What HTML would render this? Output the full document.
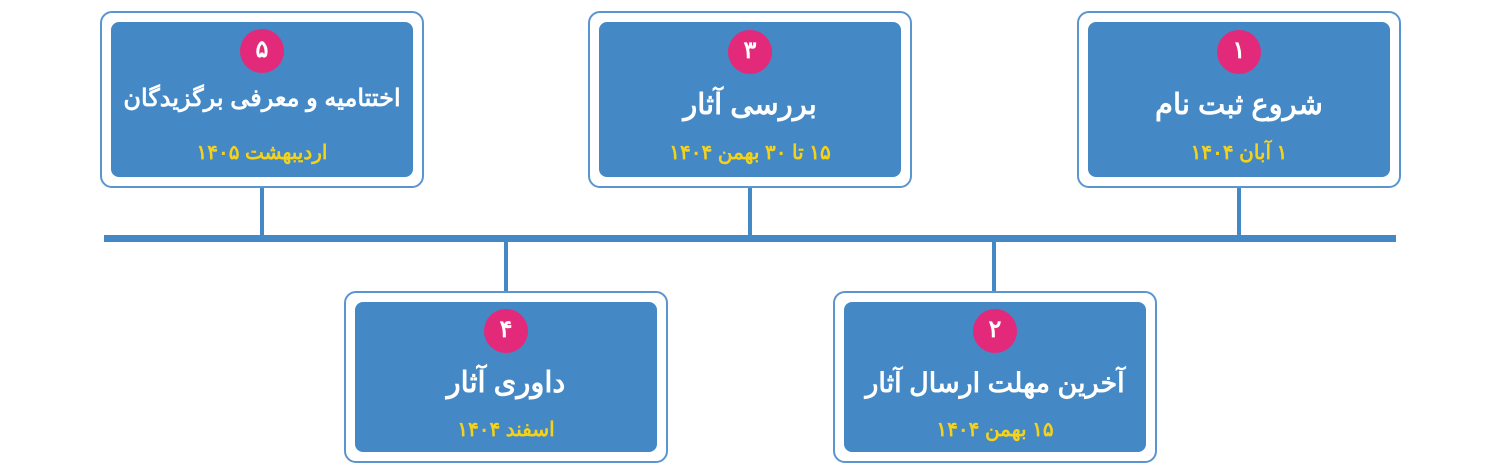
<!DOCTYPE html>
<html><head><meta charset="utf-8"><style>
body{margin:0;width:1500px;height:470px;background:#fff;position:relative;overflow:hidden;font-family:"Liberation Sans","Noto Sans CJK SC",sans-serif}
.o{position:absolute;width:324px;border:2px solid #5a95d0;border-radius:12px;box-sizing:border-box;background:#fff}
.i{position:absolute;left:9px;right:9px;top:9px;bottom:9px;background:#4488c5;border-radius:8px}
.c{position:absolute;left:50%;margin-left:-22px;width:44px;height:44px;border-radius:50%;background:#e3297a;color:#fff;font-weight:bold;font-size:24px;text-align:center;line-height:42px}
.t{position:absolute;left:0;right:0;text-align:center;color:#fff;font-size:29px;font-weight:bold;direction:rtl;white-space:nowrap}
.d{position:absolute;left:0;right:0;text-align:center;color:#f5d21a;font-size:20px;font-weight:bold;direction:rtl;white-space:nowrap}
.v{position:absolute;width:4px;background:#4488c5}
</style></head><body>
<div style="position:absolute;left:104px;top:235px;width:1292px;height:7px;background:#4488c5"></div>
<div class="v" style="left:260px;top:187px;height:50px"></div>
<div class="v" style="left:748px;top:187px;height:50px"></div>
<div class="v" style="left:1237px;top:187px;height:50px"></div>
<div class="v" style="left:504px;top:240px;height:52px"></div>
<div class="v" style="left:992px;top:240px;height:52px"></div>

<div class="o" style="left:100px;top:11px;height:177px"><div class="i">
<div class="c" style="top:7px">۵</div>
<div class="t" style="top:62px;font-size:24px;line-height:30px">اختتامیه و معرفی برگزیدگان</div>
<div class="d" style="top:118px">اردیبهشت ۱۴۰۵</div></div></div>

<div class="o" style="left:588px;top:11px;height:177px"><div class="i">
<div class="c" style="top:8px">۳</div>
<div class="t" style="top:63px;line-height:40px">بررسی آثار</div>
<div class="d" style="top:118px">۱۵ تا ۳۰ بهمن ۱۴۰۴</div></div></div>

<div class="o" style="left:1077px;top:11px;height:177px"><div class="i">
<div class="c" style="top:8px">۱</div>
<div class="t" style="top:63px;line-height:40px">شروع ثبت نام</div>
<div class="d" style="top:118px">۱ آبان ۱۴۰۴</div></div></div>

<div class="o" style="left:344px;top:291px;height:172px"><div class="i">
<div class="c" style="top:7px">۴</div>
<div class="t" style="top:61px;line-height:40px">داوری آثار</div>
<div class="d" style="top:115px">اسفند ۱۴۰۴</div></div></div>

<div class="o" style="left:833px;top:291px;height:172px"><div class="i">
<div class="c" style="top:7px">۲</div>
<div class="t" style="top:61px;line-height:40px;font-size:27px">آخرین مهلت ارسال آثار</div>
<div class="d" style="top:115px">۱۵ بهمن ۱۴۰۴</div></div></div>
</body></html>
